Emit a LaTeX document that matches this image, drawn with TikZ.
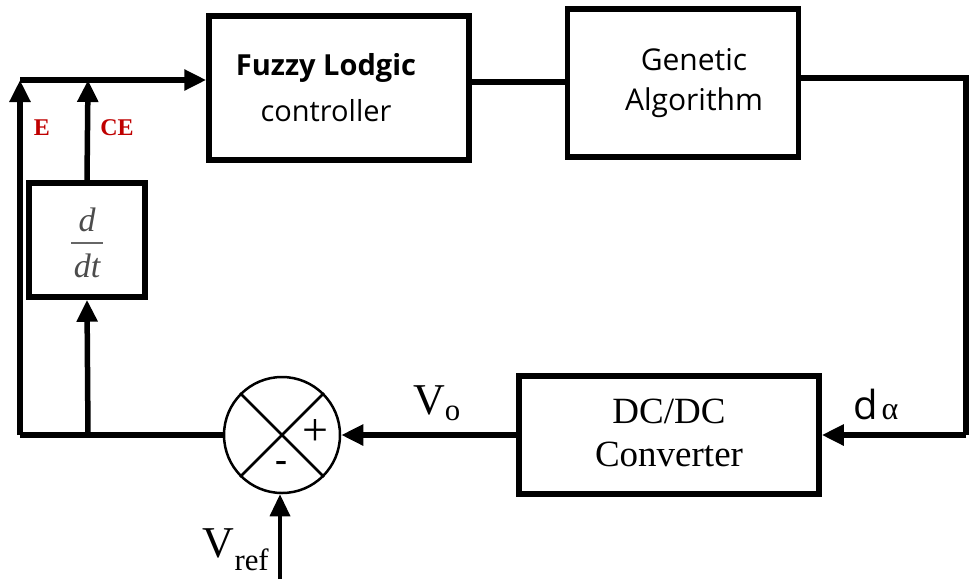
\documentclass[tikz,border=0pt]{standalone}
\usepackage{fontspec}
\setmainfont{Liberation Serif}
\newfontfamily\uisans{Open Sans}
\usetikzlibrary{arrows.meta,calc}
\begin{document}
\begin{tikzpicture}[x=1pt,y=-1pt,
  blk/.style={draw,line width=5.5pt,rectangle,inner sep=0pt},
  wire/.style={line width=5.5pt},
  arr/.style={wire,-{Triangle[length=22pt,width=20pt]}},
  thinarr/.style={line width=3.5pt,-{Triangle[length=22pt,width=20pt]}},
  lbl/.style={text=red!75!black,font=\bfseries\fontsize{24}{26}\selectfont}]
\useasboundingbox (0,0) rectangle (973,579);
\node[blk,minimum width=260pt,minimum height=144pt] (fuzzy) at (339,88) {};
\node[font=\uisans\fontsize{29}{50}\selectfont] (ftxt) at (326,88)
  {\begin{tabular}{c}\textbf{Fuzzy Lodgic}\\[-4pt]controller\end{tabular}};
\node[blk,minimum width=231pt,minimum height=148pt] (ga) at (683,83) {};
\node[font=\uisans\fontsize{30}{44}\selectfont] (gtxt) at (694,82)
  {\begin{tabular}{c}Genetic\\[-4pt]Algorithm\end{tabular}};
\node[blk,minimum width=300pt,minimum height=118pt] (dc) at (669,435)
  {\fontsize{37}{48}\selectfont\begin{tabular}{c}DC/DC\\[-5pt]Converter\end{tabular}};
\node[blk,minimum width=116pt,minimum height=114pt] (ddt) at (87,240) {};
\node[text=black!70,font=\itshape\fontsize{34}{36}\selectfont] (dnum) at (87,220) {d};
\node[text=black!70,font=\itshape\fontsize{34}{36}\selectfont] (dden) at (87,266) {dt};
\draw[black!60,line width=1.2pt] ($(ddt.center)+(-16,3)$) coordinate (fb1) -- ($(ddt.center)+(16,3)$) coordinate (fb2);
\node[draw,circle,line width=2.5pt,minimum size=116pt,inner sep=0pt] (sum) at (282,435) {};
\draw[line width=2.5pt] (sum.north west) -- (sum.south east) (sum.north east) -- (sum.south west);
\node (plus) at (315,432) {\fontsize{46}{48}\selectfont +};
\node (minus) at (281,466) {\bfseries\fontsize{36}{38}\selectfont -};
\coordinate (tl) at (20,80);
\coordinate (ce) at (88,80);
\coordinate (bl) at (20,435);
\coordinate (bd) at (88,435);
\coordinate (mid) at (518,82);
\coordinate (tr) at (966,78);
\coordinate (br) at (966,435);
\coordinate (vr) at (280,579);
\draw[arr] (tl) -- (tl -| fuzzy.west);
\draw[wire] (mid -| fuzzy.east) -- (mid -| ga.west);
\draw[wire] (tr -| ga.east) -- (tr) -- (br);
\draw[arr] (br) -- (dc.east);
\draw[arr] (dc.west) -- (sum.east);
\draw[wire] (sum.west) -- (bl);
\draw[arr] (bl) -- (tl);
\draw[arr] (bd) -- (ddt.south);
\draw[arr] (ddt.north) -- (ce);
\draw[thinarr] (vr) -- (vr |- sum.south);
\node[lbl] (e) at (42,128) {E};
\node[lbl] (cel) at (117,128) {CE};
\node (vo) at (437,403) {\fontsize{44}{48}\selectfont V\textsubscript{o}};
\node (da) at (876,404) {{\uisans\fontsize{40}{44}\selectfont d}\,\,{\fontsize{32}{34}\selectfont α}};
\node (vref) at (236,550) {\fontsize{44}{48}\selectfont V\textsubscript{ref}};
\end{tikzpicture}
\end{document}
